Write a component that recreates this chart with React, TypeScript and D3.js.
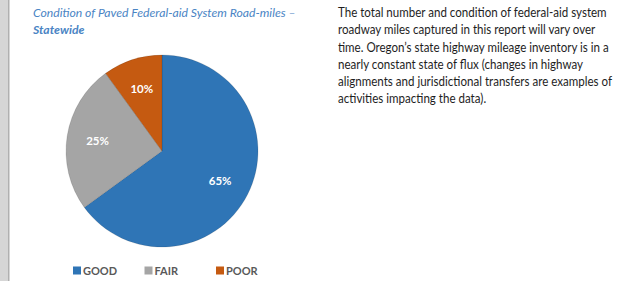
import React from "react";
import * as d3 from "d3";

const categories = ["GOOD", "FAIR", "POOR"];
const shares = [65, 25, 10];
const sliceColors = ["#2f75b6", "#a5a5a5", "#c55a11"];
const titleLines = ["Condition of Paved Federal-aid System Road-miles –", "Statewide"];
const noteLines = [
  "The total number and condition of federal-aid system",
  "roadway miles captured in this report will vary over",
  "time. Oregon\u2019s state highway mileage inventory is in a",
  "nearly constant state of flux (changes in highway",
  "alignments and jurisdictional transfers are examples of",
  "activities impacting the data).",
];

const W = 628;
const H = 281;
const font = "Lato, 'Open Sans', sans-serif";

const App = () => {
  const cx = 162;
  const cy = 151;
  const radius = 96;

  const pie = d3.pie<number>().sort(null).value(d => d);
  const arcs = pie(shares);
  const arc = d3.arc<d3.PieArcDatum<number>>().innerRadius(0).outerRadius(radius);
  const labelArc = d3.arc<d3.PieArcDatum<number>>().innerRadius(radius * 0.68).outerRadius(radius * 0.68);

  // legend layout
  const legendX = d3.scalePoint<string>().domain(categories).range([73, 216]);

  return <>
    <style>{`body{margin:0;background:#fff}`}</style>
    <svg width={W} height={H} style={{ display: "block" }}>
      <rect x={0} y={0} width={8} height={H} fill="#d6d6d6" />
      <rect x={8} y={0} width={1.5} height={H} fill="#b0b0b0" />

      {titleLines.map((t, i) => (
        <text key={i} x={33} y={17 + i * 17} fontFamily={font} fontSize={12.2}
          fontStyle="italic" fontWeight={i === 1 ? 700 : 400} fill="#4a84c4">{t}</text>
      ))}

      {/* calibri-ish: squeeze the text horizontally */}
      <g transform="translate(338,0) scale(0.925,1)">
        {noteLines.map((t, i) => (
          <text key={i} x={0} y={17 + i * 17.3} fontFamily={font} fontSize={12.5} fill="#1e1e1e">{t}</text>
        ))}
      </g>

      <g transform={`translate(${cx},${cy})`}>
        {arcs.map((a, i) => (
          <path key={i} d={arc(a) || ""} fill={sliceColors[i]} stroke="rgba(0,0,0,0.12)" strokeWidth={1} />
        ))}
        {arcs.map((a, i) => {
          const [lx, ly] = labelArc.centroid(a);
          return <text key={i} x={lx} y={ly} textAnchor="middle" dominantBaseline="central"
            fontFamily={font} fontSize={11.5} fontWeight={700} fill="#fff">{shares[i]}%</text>;
        })}
      </g>

      {categories.map((c, i) => (
        <g key={c} transform={`translate(${legendX(c)},270)`}>
          <rect x={0} y={-3.5} width={8} height={8} fill={sliceColors[i]} />
          <text x={10} y={0.5} dominantBaseline="central" fontFamily={font} fontSize={11}
            fontWeight={700} fill="#595959">{c}</text>
        </g>
      ))}
    </svg>
  </>;
};

export default App;
